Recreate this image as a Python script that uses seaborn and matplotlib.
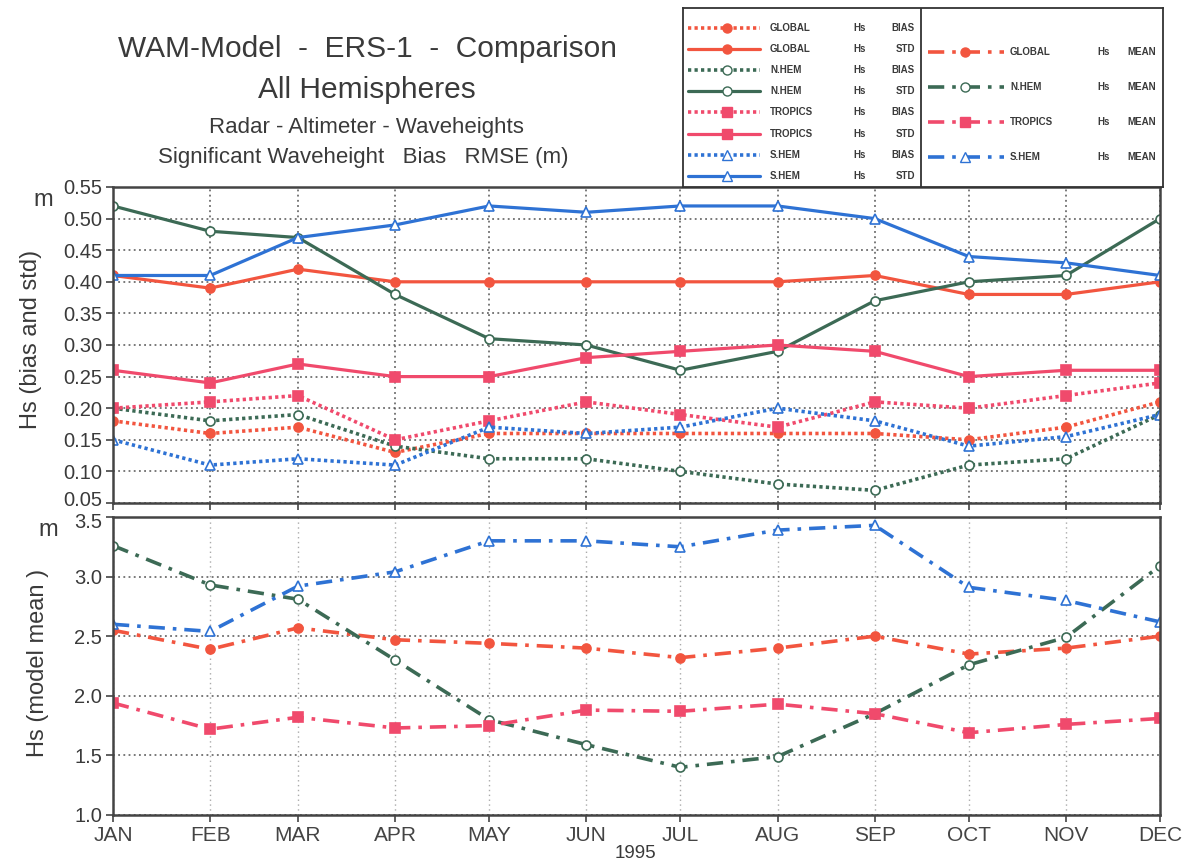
import matplotlib
matplotlib.use("Agg")
import matplotlib.pyplot as plt
import matplotlib.transforms as mtransforms
import seaborn as sns
import pandas as pd
from matplotlib.lines import Line2D

sns.set_theme(style="white")
plt.rcParams['font.family'] = ['Liberation Sans', 'DejaVu Sans']

# ---------------- data ----------------
months = ["JAN", "FEB", "MAR", "APR", "MAY", "JUN", "JUL", "AUG", "SEP", "OCT", "NOV", "DEC"]
month_day = [1, 32, 60, 91, 121, 152, 182, 213, 244, 274, 305, 335]

global_bias = [0.18, 0.16, 0.17, 0.13, 0.16, 0.16, 0.16, 0.16, 0.16, 0.15, 0.17, 0.21]
global_std = [0.41, 0.39, 0.42, 0.40, 0.40, 0.40, 0.40, 0.40, 0.41, 0.38, 0.38, 0.40]
nhem_bias = [0.20, 0.18, 0.19, 0.14, 0.12, 0.12, 0.10, 0.08, 0.07, 0.11, 0.12, 0.19]
nhem_std = [0.52, 0.48, 0.47, 0.38, 0.31, 0.30, 0.26, 0.29, 0.37, 0.40, 0.41, 0.50]
tropics_bias = [0.20, 0.21, 0.22, 0.15, 0.18, 0.21, 0.19, 0.17, 0.21, 0.20, 0.22, 0.24]
tropics_std = [0.26, 0.24, 0.27, 0.25, 0.25, 0.28, 0.29, 0.30, 0.29, 0.25, 0.26, 0.26]
shem_bias = [0.15, 0.11, 0.12, 0.11, 0.17, 0.16, 0.17, 0.20, 0.18, 0.14, 0.155, 0.19]
shem_std = [0.41, 0.41, 0.47, 0.49, 0.52, 0.51, 0.52, 0.52, 0.50, 0.44, 0.43, 0.41]

global_mean = [2.55, 2.39, 2.57, 2.47, 2.44, 2.40, 2.32, 2.40, 2.50, 2.35, 2.40, 2.50]
nhem_mean = [3.26, 2.93, 2.81, 2.30, 1.80, 1.59, 1.40, 1.49, 1.85, 2.26, 2.49, 3.09]
tropics_mean = [1.94, 1.72, 1.82, 1.73, 1.75, 1.88, 1.87, 1.93, 1.85, 1.69, 1.76, 1.81]
shem_mean = [2.60, 2.54, 2.92, 3.04, 3.30, 3.30, 3.25, 3.39, 3.43, 2.91, 2.80, 2.62]

top_ticks = [0.05, 0.10, 0.15, 0.20, 0.25, 0.30, 0.35, 0.40, 0.45, 0.50, 0.55]
bot_ticks = [1.0, 1.5, 2.0, 2.5, 3.0, 3.5]

# ---------------- styles ----------------
C_GLOBAL = "#f2553f"
C_NHEM = "#3c6a55"
C_TROP = "#f04a6c"
C_SHEM = "#2e72d4"
TXT = "#3a3a3a"

DOT = (0, (0.9, 0.9))
DASHDOT = (0, (4.5, 2.2, 1.0, 2.2))

region_style = {
    "GLOBAL": dict(color=C_GLOBAL, marker="o", mfc=C_GLOBAL),
    "N.HEM": dict(color=C_NHEM, marker="o", mfc="white"),
    "TROPICS": dict(color=C_TROP, marker="s", mfc=C_TROP),
    "S.HEM": dict(color=C_SHEM, marker="^", mfc="white"),
}

top_series = [
    ("GLOBAL", "BIAS", global_bias), ("GLOBAL", "STD", global_std),
    ("N.HEM", "BIAS", nhem_bias), ("N.HEM", "STD", nhem_std),
    ("TROPICS", "BIAS", tropics_bias), ("TROPICS", "STD", tropics_std),
    ("S.HEM", "BIAS", shem_bias), ("S.HEM", "STD", shem_std),
]
bot_series = [
    ("GLOBAL", "MEAN", global_mean), ("N.HEM", "MEAN", nhem_mean),
    ("TROPICS", "MEAN", tropics_mean), ("S.HEM", "MEAN", shem_mean),
]
kind_ls = {"BIAS": DOT, "STD": "-", "MEAN": DASHDOT}
kind_lw = {"BIAS": 2.6, "STD": 2.3, "MEAN": 2.6}

W, H = 1189, 865
fig = plt.figure(figsize=(W / 100, H / 100), dpi=100)

def px_axes(x0, y0, x1, y1):
    return fig.add_axes([x0 / W, 1 - y1 / H, (x1 - x0) / W, (y1 - y0) / H])

ax1 = px_axes(113, 187, 1160, 503)
ax2 = px_axes(113, 517, 1160, 815)

def draw(ax, series):
    for region, kind, vals in series:
        st = region_style[region]
        df = pd.DataFrame({"day": month_day, "val": vals})
        sns.lineplot(data=df, x="day", y="val", ax=ax, color=st["color"],
                     linestyle=kind_ls[kind], linewidth=kind_lw[kind],
                     marker=st["marker"], markersize=6.5,
                     markerfacecolor=st["mfc"], markeredgecolor=st["color"],
                     markeredgewidth=1.2, errorbar=None, legend=False)

draw(ax1, top_series)
draw(ax2, bot_series)

for ax in (ax1, ax2):
    ax.set_xlim(month_day[0], month_day[-1])
    ax.set_xticks(month_day)
    ax.set_xlabel("")
    ax.set_ylabel("")
    for s in ax.spines.values():
        s.set_color("#444444")
        s.set_linewidth(1.8)
    ax.tick_params(axis="both", direction="out", length=5, width=1.2,
                   colors="#444444", labelcolor=TXT, labelsize=14.5,
                   left=True, bottom=True, pad=3)

ax1.set_ylim(0.05, 0.55)
ax1.set_yticks(top_ticks)
ax1.set_yticklabels([f"{t:.2f}" for t in top_ticks])
ax1.set_xticklabels([])
ax1.grid(True, linestyle=(0, (1.2, 2.2)), color="#555555", linewidth=1.1)

ax2.set_ylim(1.0, 3.5)
ax2.set_yticks(bot_ticks)
ax2.set_yticklabels([f"{t:.1f}" for t in bot_ticks])
ax2.set_xticklabels(months, fontsize=15, color="#444444")
ax2.grid(True, axis="y", linestyle=(0, (1.2, 2.2)), color="#555555", linewidth=1.1)
ax2.grid(True, axis="x", linestyle=(0, (1.0, 2.5)), color="#aaaaaa", linewidth=1.0)

# nudge the touching end labels apart a little (0.05 up, 3.5 down)
lab05 = ax1.get_yticklabels()[0]
lab05.set_transform(lab05.get_transform() + mtransforms.ScaledTranslation(0, 4 / 100, fig.dpi_scale_trans))
lab35 = ax2.get_yticklabels()[-1]
lab35.set_transform(lab35.get_transform() + mtransforms.ScaledTranslation(0, -4 / 100, fig.dpi_scale_trans))

# axis labels
fig.text(31 / W, 1 - 339 / H, "Hs (bias and std)", rotation=90, ha="center", va="center",
         fontsize=17, color=TXT)
fig.text(43 / W, 1 - 200 / H, "m", ha="center", va="center", fontsize=17, color=TXT)
fig.text(38 / W, 1 - 663 / H, "Hs (model mean )", rotation=90, ha="center", va="center",
         fontsize=17, color=TXT)
fig.text(48 / W, 1 - 530 / H, "m", ha="center", va="center", fontsize=17, color=TXT)
fig.text(635 / W, 1 - 853 / H, "1995", ha="center", va="center", fontsize=13.5, color=TXT)

# titles
fig.text(367 / W, 1 - 49 / H, "WAM-Model  -  ERS-1  -  Comparison", ha="center", va="center",
         fontsize=21.5, color=TXT)
fig.text(367 / W, 1 - 90 / H, "All Hemispheres", ha="center", va="center",
         fontsize=21.5, color=TXT)
fig.text(366 / W, 1 - 127 / H, "Radar - Altimeter - Waveheights", ha="center", va="center",
         fontsize=16, color=TXT)
fig.text(363 / W, 1 - 157 / H, "Significant Waveheight   Bias   RMSE (m)", ha="center",
         va="center", fontsize=16, color=TXT)

# legend box (drawn in pixel coordinates)
lx0, ly0, lx1, ly1 = 683, 8, 1163, 187
axl = px_axes(lx0, ly0, lx1, ly1)
axl.set_xlim(lx0, lx1)
axl.set_ylim(ly1, ly0)
axl.set_xticks([])
axl.set_yticks([])
for s in axl.spines.values():
    s.set_color("#333333")
    s.set_linewidth(1.3)
axl.axvline(921, color="#333333", linewidth=1.3)

left_y = [28, 49, 70, 91, 112, 134, 155, 176]
right_y = [52, 87, 122, 157]
lfs = 7

for (region, kind, _), yy in zip(top_series, left_y):
    st = region_style[region]
    axl.add_line(Line2D([688, 760], [yy, yy], color=st["color"], linestyle=kind_ls[kind],
                        linewidth=kind_lw[kind]))
    axl.add_line(Line2D([727], [yy], marker=st["marker"], markersize=6.5, color=st["color"],
                        markerfacecolor=st["mfc"], markeredgecolor=st["color"], linestyle="none"))
    axl.text(770, yy, region, fontsize=lfs, va="center", ha="left", color=TXT, fontweight="bold")
    axl.text(853, yy, "Hs", fontsize=lfs, va="center", ha="left", color=TXT, fontweight="bold")
    axl.text(915, yy, kind, fontsize=lfs, va="center", ha="right", color=TXT, fontweight="bold")

for (region, kind, _), yy in zip(bot_series, right_y):
    st = region_style[region]
    axl.add_line(Line2D([928, 1004], [yy, yy], color=st["color"], linestyle=kind_ls[kind],
                        linewidth=kind_lw[kind]))
    axl.add_line(Line2D([965], [yy], marker=st["marker"], markersize=6.5, color=st["color"],
                        markerfacecolor=st["mfc"], markeredgecolor=st["color"], linestyle="none"))
    axl.text(1010, yy, region, fontsize=lfs, va="center", ha="left", color=TXT, fontweight="bold")
    axl.text(1097, yy, "Hs", fontsize=lfs, va="center", ha="left", color=TXT, fontweight="bold")
    axl.text(1156, yy, kind, fontsize=lfs, va="center", ha="right", color=TXT, fontweight="bold")

fig.savefig("out.png", dpi=100)
